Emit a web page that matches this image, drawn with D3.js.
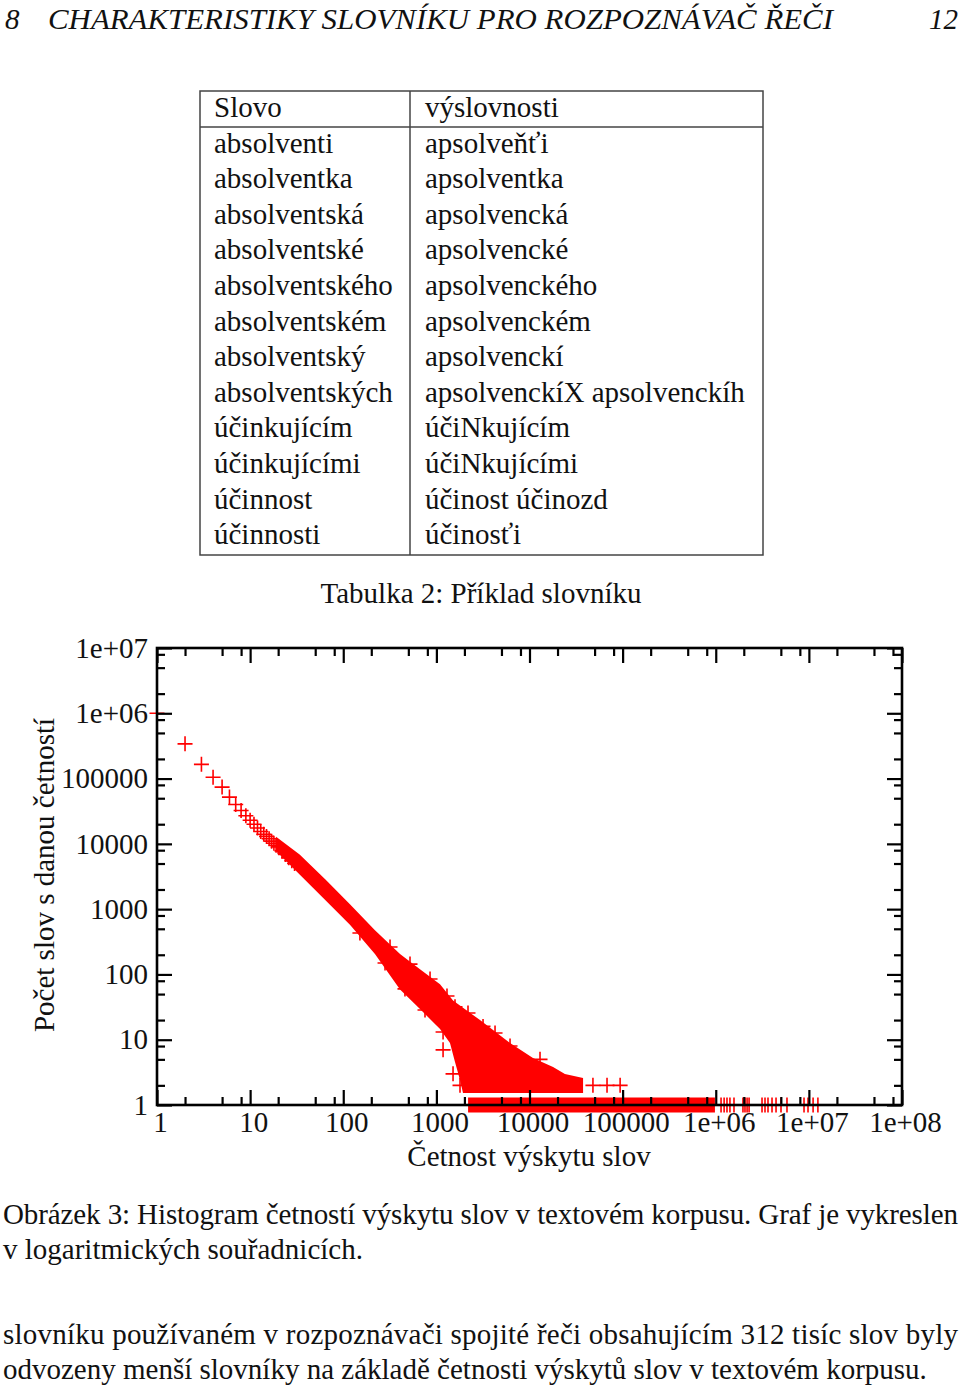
<!DOCTYPE html>
<html><head><meta charset="utf-8">
<script src="https://cdn.jsdelivr.net/npm/d3@7/dist/d3.min.js"></script>
<style>
body{margin:0;background:#fff;}
text{font-family:"Liberation Serif","Times New Roman",Times,serif;fill:#111;}
</style>
</head><body>
<svg id="c" width="960" height="1390"></svg>
<script>
// ---------- text content ----------
const headerNum = "8";
const headerTitle = "CHARAKTERISTIKY SLOVNÍKU PRO ROZPOZNÁVAČ ŘEČI";
const pageNum = "12";
const tableHeader = ["Slovo", "výslovnosti"];
const tableWords = ["absolventi","absolventka","absolventská","absolventské","absolventského","absolventském","absolventský","absolventských","účinkujícím","účinkujícími","účinnost","účinnosti"];
const tablePron = ["apsolveňťi","apsolventka","apsolvencká","apsolvencké","apsolvenckého","apsolvenckém","apsolvenckí","apsolvenckíX apsolvenckíh","účiNkujícím","účiNkujícími","účinost účinozd","účinosťi"];
const tableCaption = "Tabulka 2: Příklad slovníku";
const xTitle = "Četnost výskytu slov";
const yTitle = "Počet slov s danou četností";
const figCaption = ["Obrázek 3: Histogram četností výskytu slov v textovém korpusu. Graf je vykreslen", "v logaritmických souřadnicích."];
const paragraph = ["slovníku používaném v rozpoznávači spojité řeči obsahujícím 312 tisíc slov byly", "odvozeny menší slovníky na základě četnosti výskytů slov v textovém korpusu."];

// ---------- axes ----------
const xMajor = [1,1e1,1e2,1e3,1e4,1e5,1e6,1e7,1e8];
const xLabels = ["1","10","100","1000","10000","100000","1e+06","1e+07","1e+08"];
const yMajor = [1,1e1,1e2,1e3,1e4,1e5,1e6,1e7];
const yLabels = ["1","10","100","1000","10000","100000","1e+06","1e+07"];
const minorMult = [2,5,8];

// ---------- data: frequency (x) vs. number of words with that frequency (y) ----------
// distinct markers at low frequencies
const lowFreq = [[1,1.0e6],[2,3.4e5],[3,1.65e5],[4,1.05e5],[5,7.4e4],[6,5.2e4],[7,4.0e4],[8,3.25e4],[9,2.7e4],[10,2.3e4],[11,2.0e4],[12,1.75e4],[13,1.55e4],[14,1.4e4],[15,1.3e4],[16,1.2e4],[17,1.1e4],[18,1.02e4],[19,9500],[20,9000],[22,7800],[24,6900],[26,6100],[28,5500],[30,5000]];
// outline of the dense (overplotted) band of markers
const bandUpper = [[19,12800],[34,6900],[64,2880],[118,1190],[219,475],[407,205],[667,120],[1094,71],[1510,40],[2940,20],[6180,8.9],[10900,5.25],[17900,3.82],[24000,2.98],[37600,2.59]];
const bandLower = [[19,7750],[34,3400],[64,1380],[118,575],[219,205],[407,59],[667,29.5],[1094,14.6],[1400,8.9],[1585,4.56],[1794,2.41],[1932,1.53],[37600,1.53]];
// scattered markers sticking out of the band edges
const outliers = [[318,263],[521,144],[855,85],[1300,46.7],[2186,25.7],[4265,12.7],[1585,32],[3170,16],[6180,8],[12970,5],
                  [151,431],[281,150],[460,60],[755,28.5],[1180,13.1],[1180,7],[1510,3],[1794,2],
                  [48000,2],[68000,2],[94000,2]];
// dense run of frequencies each having exactly `count` words: [count, fromFreq, toFreq]
const denseRuns = [[1,2190,980000]];
// sparse single words at very high frequencies (count = 1)
const sparseHigh = [1.14e6,1.23e6,1.32e6,1.42e6,1.57e6,1.96e6,2.06e6,2.17e6,2.28e6,3.14e6,3.38e6,3.64e6,4.02e6,4.44e6,5.02e6,5.82e6,8.87e6,9.79e6,1.11e7,1.25e7];

// ---------- drawing ----------
const svg = d3.select("#c");
const RED = "#ff0000";

// header
svg.append("text").attr("x",5).attr("y",29).attr("font-size",29).attr("font-style","italic").text(headerNum);
svg.append("text").attr("x",48).attr("y",29).attr("font-size",29).attr("font-style","italic")
  .attr("textLength",785).attr("lengthAdjust","spacingAndGlyphs").text(headerTitle);
svg.append("text").attr("x",958).attr("y",29).attr("font-size",29).attr("text-anchor","end").attr("font-style","italic").text(pageNum);

// table
const tb = {left:200,right:763,top:91,bottom:555,div:410,head:127};
const tg = svg.append("g");
tg.append("rect").attr("x",tb.left).attr("y",tb.top).attr("width",tb.right-tb.left).attr("height",tb.bottom-tb.top)
  .attr("fill","none").attr("stroke","#444").attr("stroke-width",1.5);
tg.append("line").attr("x1",tb.left).attr("x2",tb.right).attr("y1",tb.head).attr("y2",tb.head).attr("stroke","#444").attr("stroke-width",1.5);
tg.append("line").attr("x1",tb.div).attr("x2",tb.div).attr("y1",tb.top).attr("y2",tb.bottom).attr("stroke","#444").attr("stroke-width",1.5);
const rows = [tableHeader].concat(tableWords.map((w,i)=>[w,tablePron[i]]));
rows.forEach((r,i)=>{
  const by = 117 + i*35.6;
  tg.append("text").attr("x",214).attr("y",by).attr("font-size",29).text(r[0]);
  tg.append("text").attr("x",425).attr("y",by).attr("font-size",29).text(r[1]);
});
svg.append("text").attr("x",481).attr("y",603).attr("font-size",29).attr("text-anchor","middle").text(tableCaption);

// chart
const x = d3.scaleLog().domain([1,1e8]).range([157,902]);
const y = d3.scaleLog().domain([1,1e7]).range([1105,648]);
const plot = svg.append("g");

// band
const bandPoly = bandUpper.concat(bandLower.slice().reverse());
plot.append("path").attr("d", d3.line().x(d=>x(d[0])).y(d=>y(d[1]))(bandPoly)+"Z").attr("fill",RED);

// dense runs
plot.selectAll("rect.run").data(denseRuns).enter().append("rect")
  .attr("x",d=>x(d[1])).attr("width",d=>x(d[2])-x(d[1]))
  .attr("y",d=>y(d[0])-7.5).attr("height",15).attr("fill",RED);

// markers
const plus = "M-7.5,0H7.5M0,-7.5V7.5";
const allMarks = lowFreq.concat(outliers).concat(sparseHigh.map(f=>[f,1]));
plot.selectAll("path.pt").data(allMarks).enter().append("path")
  .attr("d",plus).attr("transform",d=>`translate(${x(d[0])},${y(d[1])})`)
  .attr("stroke",RED).attr("stroke-width",1.6).attr("fill","none");

// axes
const xMinor = [], yMinor = [];
xMajor.slice(0,-1).forEach(d=>minorMult.forEach(m=>xMinor.push(d*m)));
yMajor.slice(0,-1).forEach(d=>minorMult.forEach(m=>yMinor.push(d*m)));
const axes = svg.append("g");
function styleAxis(g){
  g.select(".domain").remove();
  g.selectAll("line").attr("stroke","#000").attr("stroke-width",2.2);
  g.selectAll("text").attr("font-size",29).attr("fill","#111").attr("font-family",'"Liberation Serif","Times New Roman",serif');
}
axes.append("g").attr("transform",`translate(0,${y(1)})`)
  .call(d3.axisBottom(x).tickValues(xMajor).tickSize(-15).tickSizeOuter(0).tickPadding(6).tickFormat((d,i)=>xLabels[i]))
  .call(styleAxis).selectAll("text").attr("dx",3);
axes.append("g").attr("transform",`translate(0,${y(1)})`)
  .call(d3.axisBottom(x).tickValues(xMinor).tickSize(-8).tickSizeOuter(0).tickFormat("")).call(styleAxis);
axes.append("g").attr("transform",`translate(0,${y(1e7)})`)
  .call(d3.axisTop(x).tickValues(xMajor).tickSize(-15).tickSizeOuter(0).tickFormat("")).call(styleAxis);
axes.append("g").attr("transform",`translate(0,${y(1e7)})`)
  .call(d3.axisTop(x).tickValues(xMinor).tickSize(-8).tickSizeOuter(0).tickFormat("")).call(styleAxis);
axes.append("g").attr("transform",`translate(${x(1)},0)`)
  .call(d3.axisLeft(y).tickValues(yMajor).tickSize(-15).tickSizeOuter(0).tickPadding(9).tickFormat((d,i)=>yLabels[i]))
  .call(styleAxis);
axes.append("g").attr("transform",`translate(${x(1)},0)`)
  .call(d3.axisLeft(y).tickValues(yMinor).tickSize(-8).tickSizeOuter(0).tickFormat("")).call(styleAxis);
axes.append("g").attr("transform",`translate(${x(1e8)},0)`)
  .call(d3.axisRight(y).tickValues(yMajor).tickSize(-15).tickSizeOuter(0).tickFormat("")).call(styleAxis);
axes.append("g").attr("transform",`translate(${x(1e8)},0)`)
  .call(d3.axisRight(y).tickValues(yMinor).tickSize(-8).tickSizeOuter(0).tickFormat("")).call(styleAxis);
axes.append("rect").attr("x",x(1)).attr("y",y(1e7)).attr("width",x(1e8)-x(1)).attr("height",y(1)-y(1e7))
  .attr("fill","none").attr("stroke","#000").attr("stroke-width",2.6);

// axis titles
svg.append("text").attr("x",529).attr("y",1166).attr("font-size",29).attr("text-anchor","middle").text(xTitle);
svg.append("text").attr("transform","translate(54,875) rotate(-90)").attr("font-size",29).attr("text-anchor","middle").text(yTitle);

// caption & paragraph
svg.append("text").attr("x",3).attr("y",1224).attr("font-size",29).attr("textLength",955).attr("lengthAdjust","spacing").text(figCaption[0]);
svg.append("text").attr("x",3).attr("y",1259).attr("font-size",29).text(figCaption[1]);
svg.append("text").attr("x",3).attr("y",1344).attr("font-size",29).attr("textLength",955).attr("lengthAdjust","spacing").text(paragraph[0]);
svg.append("text").attr("x",3).attr("y",1379).attr("font-size",29).text(paragraph[1]);
</script>
</body></html>
